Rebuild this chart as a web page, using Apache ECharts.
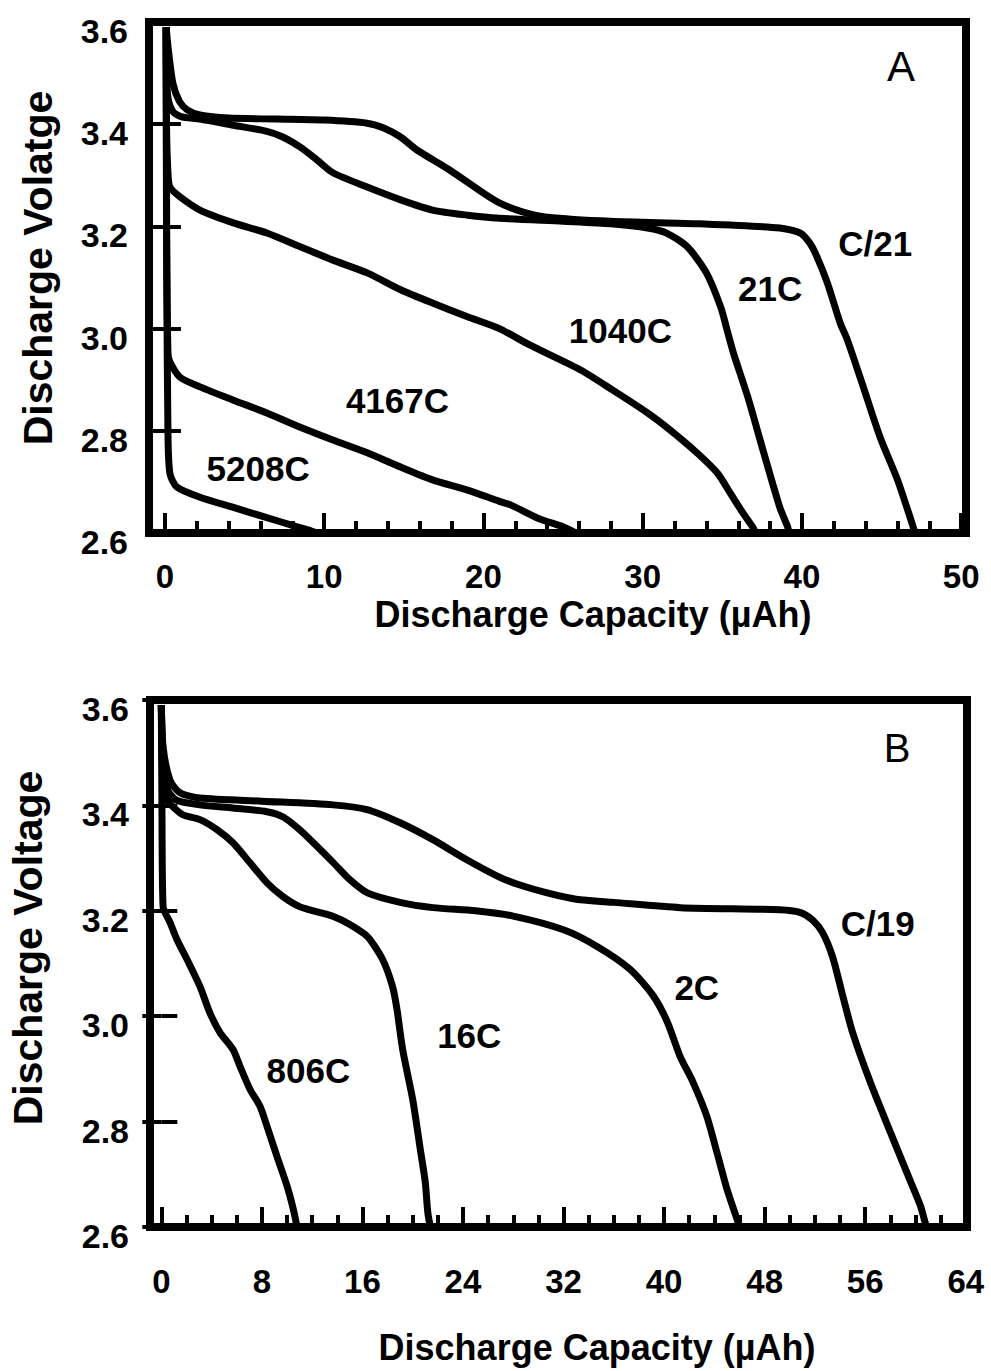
<!DOCTYPE html>
<html>
<head>
    <meta charset="utf-8">
    <title>Discharge curves</title>
    <script src="https://cdn.jsdelivr.net/npm/echarts@6/dist/echarts.min.js"></script>
    <style>
        html, body { margin: 0; padding: 0; background: #fff; }
        #chart { width: 991px; height: 1371px; }
    </style>
</head>
<body>
    <div id="chart"></div>

    <script type="text/javascript">
        // ---- panel A : [capacity (uAh), voltage (V)] ----
        var curveA_C21 = [[0.08,3.59],[0.2,3.55],[0.5,3.48],[0.9,3.445],[1.4,3.428],[2.2,3.418],[4,3.412],[7,3.41],[10,3.408],
            [12.7,3.402],[13.7,3.393],[14.8,3.375],[15.8,3.35],[17.9,3.31],[20,3.265],[21,3.246],[22.5,3.228],[24,3.218],
            [28,3.21],[33.6,3.205],[38.6,3.197],[39.9,3.187],[40.5,3.167],[40.95,3.14],[41.6,3.089],[42.4,3.011],
            [42.85,2.978],[43.85,2.886],[44.9,2.788],[46,2.704],[46.9,2.62],[47.1,2.6]];
        var curveA_21C = [[0.08,3.59],[0.1,3.5],[0.2,3.45],[0.5,3.425],[1,3.415],[2.2,3.41],[4.3,3.398],[6.4,3.386],[7.4,3.375],
            [8.5,3.355],[9.55,3.33],[10.55,3.305],[12.7,3.277],[14.8,3.252],[16.8,3.232],[19,3.222],[21,3.216],[25,3.21],
            [28,3.205],[30.3,3.197],[31.5,3.187],[32.8,3.16],[34,3.109],[34.9,3.042],[35.3,2.997],[35.7,2.952],
            [36.6,2.866],[37.6,2.757],[38.6,2.651],[39.1,2.612],[39.2,2.6]];
        var curveA_1040C = [[0.08,3.59],[0.1,3.4],[0.19,3.305],[0.31,3.277],[0.94,3.258],[2.2,3.232],[4.3,3.207],[6.4,3.187],
            [8.5,3.16],[10.55,3.134],[12.7,3.109],[14.8,3.076],[16.8,3.05],[19,3.023],[21,3.0],[22.9,2.968],[26.1,2.919],
            [28.1,2.88],[30.3,2.835],[31.7,2.802],[33.4,2.757],[34.7,2.717],[35.5,2.678],[36.3,2.639],[36.9,2.612],[37.1,2.6]];
        var curveA_4167C = [[0.08,3.59],[0.1,3.2],[0.19,2.952],[0.31,2.935],[0.94,2.905],[2.2,2.886],[4.3,2.86],[6.4,2.835],
            [8.5,2.807],[10.55,2.782],[12.7,2.757],[14.8,2.729],[16.8,2.704],[19,2.684],[21,2.662],[21.7,2.655],
            [23.5,2.628],[25,2.612],[25.8,2.6]];
        var curveA_5208C = [[0.08,3.59],[0.12,3.1],[0.19,2.796],[0.31,2.717],[0.75,2.69],[2.2,2.67],[4.3,2.65],[6.4,2.63],
            [8,2.615],[9.0,2.606],[9.5,2.6]];

        // ---- panel B ----
        var curveB_C19 = [[0,3.59],[0.14,3.511],[0.69,3.448],[1.48,3.424],[3.08,3.414],[8,3.408],[13.67,3.401],[16.36,3.392],
            [19,3.367],[21.6,3.335],[24.3,3.297],[26.9,3.264],[28.4,3.25],[30.7,3.234],[33,3.222],[36,3.216],[41.3,3.206],
            [49.2,3.202],[50.8,3.197],[51.8,3.183],[52.6,3.159],[53.4,3.113],[54.2,3.04],[55,2.969],[56.4,2.875],
            [58,2.78],[59.3,2.704],[60.4,2.64],[60.75,2.61],[60.9,2.6]];
        var curveB_2C = [[0,3.59],[0.14,3.5],[0.5,3.43],[1.2,3.41],[3.08,3.401],[5.7,3.395],[8.4,3.388],[9.7,3.378],[11,3.354],
            [12.4,3.322],[13.7,3.291],[15,3.259],[16.4,3.234],[19,3.216],[21.6,3.206],[25,3.2],[28,3.19],[32,3.164],
            [34.7,3.132],[37.3,3.089],[39.1,3.04],[40.24,2.99],[41.27,2.924],[42.3,2.875],[43.4,2.81],
            [44.2,2.742],[45,2.672],[45.8,2.615],[46,2.6]];
        var curveB_16C = [[0,3.59],[0.14,3.45],[0.5,3.41],[0.9,3.398],[1.73,3.382],[3.08,3.373],[4.43,3.354],[5.7,3.329],
            [7.06,3.291],[8.41,3.253],[9.68,3.227],[11,3.208],[12.4,3.198],[13.7,3.189],[15,3.174],[16.4,3.151],
            [17.6,3.108],[18.4,3.056],[18.75,3.013],[19.2,2.937],[20,2.842],[20.6,2.748],[21,2.685],[21.2,2.628],[21.4,2.6]];
        var curveB_806C = [[0,3.59],[0.05,3.4],[0.14,3.208],[0.69,3.178],[1.25,3.145],[2.04,3.108],[3.08,3.056],[3.87,3.006],
            [4.67,2.969],[5.7,2.937],[6.26,2.905],[7.06,2.861],[7.85,2.829],[8.41,2.791],[9.2,2.734],[10,2.678],
            [10.5,2.634],[10.8,2.6]];

        // tick values
        var majorA = [0, 10, 20, 30, 40, 50];
        var minorA = [2,4,6,8,12,14,16,18,22,24,26,28,32,34,36,38,42,44,46,48];
        var majorB = [0, 8, 16, 24, 32, 40, 48, 56, 64];
        var minorB = [2,4,6,10,12,14,18,20,22,26,28,30,34,36,38,42,44,46,50,52,54,58,60,62];

        // curve labels: [text, capacity, voltage]
        var labelsA = [['C/21',44.6,3.166],['21C',38.0,3.079],['1040C',28.6,2.997],['4167C',14.6,2.86],['5208C',5.85,2.727]];
        var labelsB = [['C/19',57.0,3.176],['2C',42.6,3.055],['16C',24.5,2.964],['806C',11.7,2.897]];

        var FONT = "'Liberation Sans', Arial, Helvetica, sans-serif";

        var chart = echarts.init(document.getElementById('chart'), null, {renderer: 'svg'});

        function xMajor(grid, min, max, ticks, margin) {
            return {
                gridIndex: grid, type: 'value', position: 'bottom', min: min, max: max,
                axisLine: {show: false}, splitLine: {show: false},
                axisTick: {show: true, inside: true, length: 20, customValues: ticks,
                    lineStyle: {color: '#000', width: 4}},
                axisLabel: {show: true, customValues: ticks, margin: margin, color: '#000',
                    fontSize: 33, fontWeight: 'bold', fontFamily: FONT}
            };
        }
        function xMinor(grid, min, max, ticks) {
            return {
                gridIndex: grid, type: 'value', position: 'bottom', min: min, max: max,
                axisLine: {show: false}, splitLine: {show: false},
                axisTick: {show: true, inside: true, length: 12, customValues: ticks,
                    lineStyle: {color: '#000', width: 4}},
                axisLabel: {show: false}
            };
        }
        function yAxis(grid, pos) {
            return {
                gridIndex: grid, type: 'value', position: pos, min: 2.6, max: 3.6, interval: 0.2,
                axisLine: {show: false}, splitLine: {show: false},
                axisTick: {show: true, inside: true, length: pos === 'left' ? 16 : 19,
                    lineStyle: {color: '#000', width: 4}},
                axisLabel: {show: pos === 'left', margin: 21, color: '#000', fontSize: 34,
                    fontWeight: 'bold', fontFamily: FONT, verticalAlign: 'top', lineHeight: 18,
                    formatter: function (v) { return v.toFixed(1); }}
            };
        }
        function curve(data, xi, yi) {
            return {
                type: 'line', xAxisIndex: xi, yAxisIndex: yi, data: data,
                symbol: 'none', smooth: 0.25,
                lineStyle: {color: '#000', width: 7}
            };
        }
        function labels(list, xi, yi) {
            return {
                type: 'scatter', xAxisIndex: xi, yAxisIndex: yi, silent: true, z: 5,
                symbolSize: 1, itemStyle: {color: 'rgba(0,0,0,0)'},
                data: list.map(function (l) { return {name: l[0], value: [l[1], l[2]]}; }),
                label: {show: true, position: 'inside', formatter: '{b}', color: '#000',
                    textBorderWidth: 0, textBorderColor: 'transparent', opacity: 1,
                    fontSize: 35, fontWeight: 'bold', fontFamily: FONT}
            };
        }
        function text(str, x, y, size, weight, rot) {
            return {
                type: 'text', x: x, y: y, rotation: rot || 0, z: 10,
                style: {text: str, fill: '#000', font: weight + ' ' + size + 'px ' + FONT,
                    align: 'center', verticalAlign: 'middle',
                    textAlign: 'center', textVerticalAlign: 'middle'}
            };
        }

        var option = {
            animation: false,
            backgroundColor: '#fff',
            grid: [
                {left: 149, top: 22, width: 817, height: 511, show: true, borderColor: '#000', borderWidth: 8,
                    containLabel: false, outerBoundsMode: 'none'},
                {left: 150, top: 700, width: 817, height: 527, show: true, borderColor: '#000', borderWidth: 8,
                    containLabel: false, outerBoundsMode: 'none'}
            ],
            xAxis: [
                xMajor(0, -1, 50.3, majorA, 27),
                xMinor(0, -1, 50.3, minorA),
                xMajor(1, -0.9, 64.1, majorB, 38),
                xMinor(1, -0.9, 64.1, minorB)
            ],
            yAxis: [yAxis(0, 'left'), yAxis(0, 'right'), yAxis(1, 'left'), yAxis(1, 'right')],
            graphic: [
                text('Discharge Capacity (\u00b5Ah)', 593, 614, 36, 'bold'),
                text('Discharge Volatge', 38, 268, 41, 'bold', Math.PI / 2),
                text('A', 901, 66, 42, 'normal'),
                text('Discharge Capacity (\u00b5Ah)', 597, 1347, 36, 'bold'),
                text('Discharge Voltage', 28, 948, 41, 'bold', Math.PI / 2),
                text('B', 897, 748, 40, 'normal')
            ],
            series: [
                curve(curveA_C21, 0, 0), curve(curveA_21C, 0, 0), curve(curveA_1040C, 0, 0),
                curve(curveA_4167C, 0, 0), curve(curveA_5208C, 0, 0),
                labels(labelsA, 0, 0),
                curve(curveB_C19, 2, 2), curve(curveB_2C, 2, 2), curve(curveB_16C, 2, 2),
                curve(curveB_806C, 2, 2),
                labels(labelsB, 2, 2)
            ]
        };

        chart.setOption(option);
    </script>
</body>
</html>
